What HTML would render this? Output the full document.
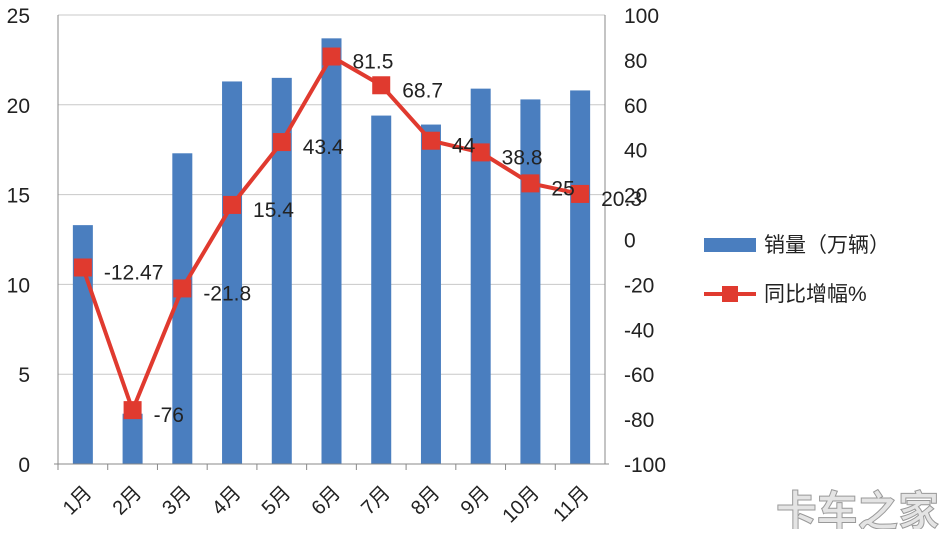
<!DOCTYPE html>
<html><head><meta charset="utf-8"><style>
body{margin:0;background:#fff;}
svg text{font-family:"Liberation Sans","Noto Sans CJK SC",sans-serif;}
</style></head><body>
<svg id="c" width="939" height="529" viewBox="0 0 939 529" xmlns="http://www.w3.org/2000/svg">
<g id="grid"></g><g id="bars"></g><g id="axes"></g><g id="line"></g><g id="labels"></g>
<g>
<rect x="704" y="238" width="52" height="14" fill="#4a7ebf"/>
<text x="764" y="252" font-size="21" fill="#222">销量（万辆）</text>
<line x1="704" y1="294" x2="756" y2="294" stroke="#e03a2f" stroke-width="4"/>
<rect x="722" y="286" width="16" height="16" fill="#e03a2f"/>
<text x="764" y="301" font-size="21" fill="#222">同比增幅%</text>
</g>
<text x="776" y="526" font-size="42" textLength="163" lengthAdjust="spacingAndGlyphs" font-weight="bold" fill="#e4e4e4" stroke="#999" stroke-width="1">卡车之家</text>
</svg>
<script>
const categories=["1月","2月","3月","4月","5月","6月","7月","8月","9月","10月","11月"];
const sales=[13.3,2.8,17.3,21.3,21.5,23.7,19.4,18.9,20.9,20.3,20.8];
const growth=[-12.47,-76,-21.8,15.4,43.4,81.5,68.7,44,38.8,25,20.3];
const growthLabels=["-12.47","-76","-21.8","15.4","43.4","81.5","68.7","44","38.8","25","20.3"];
const leftTicks=[0,5,10,15,20,25];
const rightTicks=[-100,-80,-60,-40,-20,0,20,40,60,80,100];
const X0=58,X1=605,Y0=464,Y1=15;
const bw=(X1-X0)/categories.length;
const xc=i=>X0+bw*(i+0.5);
const yl=v=>Y0-(v/25)*(Y0-Y1);
const yr=v=>Y0-((v+100)/200)*(Y0-Y1);
const NS="http://www.w3.org/2000/svg";
function mk(t,a,p){const e=document.createElementNS(NS,t);for(const k in a)e.setAttribute(k,a[k]);document.getElementById(p).appendChild(e);return e;}
leftTicks.forEach(v=>{const l=mk("line",{x1:X0,x2:X1,y1:yl(v),y2:yl(v),stroke:"#c8c8c8","stroke-width":1},"grid");


const t=mk("text",{x:30,y:yl(v)+8,"font-size":21,"text-anchor":"end",fill:"#222"},"axes");t.textContent=v;

});
rightTicks.forEach(v=>{const t=mk("text",{x:624,y:yr(v)+8,"font-size":21,fill:"#222"},"axes");t.textContent=v;

});
mk("line",{x1:X0,x2:X0,y1:Y1,y2:Y0,stroke:"#888"},"axes");
mk("line",{x1:X1,x2:X1,y1:Y1,y2:Y0,stroke:"#888"},"axes");
mk("line",{x1:X0-4,x2:X1+4,y1:Y0,y2:Y0,stroke:"#888"},"axes");
categories.forEach((c,i)=>{
const tk=mk("line",{x1:X0+bw*i,x2:X0+bw*i,y1:Y0,y2:Y0+6,stroke:"#888"},"axes");
const b=mk("rect",{x:xc(i)-10,y:yl(sales[i]),width:20,height:Y0-yl(sales[i]),fill:"#4a7ebf"},"bars");


const t=mk("text",{x:0,y:0,"font-size":20,fill:"#222","text-anchor":"end",transform:`translate(${xc(i)+10},${Y0+30}) rotate(-45)`},"axes");t.textContent=c;

});
const pts=growth.map((v,i)=>xc(i)+","+yr(v)).join(" ");
const pl=mk("polyline",{points:pts,fill:"none",stroke:"#e03a2f","stroke-width":4},"line");


growth.forEach((v,i)=>{
const m=mk("rect",{x:xc(i)-9,y:yr(v)-9,width:18,height:18,fill:"#e03a2f"},"line");


const t=mk("text",{x:xc(i)+21,y:yr(v)+12,"font-size":21,fill:"#222"},"labels");t.textContent=growthLabels[i];

});
</script>
</body></html>
